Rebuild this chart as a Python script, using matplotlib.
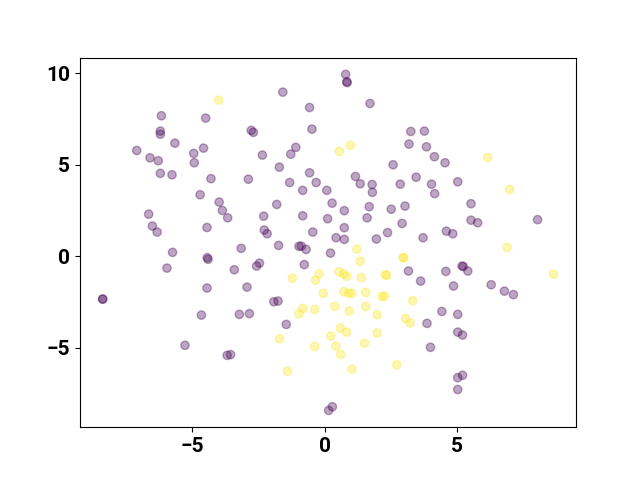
import matplotlib
matplotlib.use("Agg")
import matplotlib.pyplot as plt
from matplotlib.ticker import MultipleLocator
import numpy as np

plt.rcParams['font.family'] = ['Roboto', 'DejaVu Sans']
plt.rcParams['font.weight'] = 'bold'

# class 0 (purple)
x0 = [-1.58, -0.57, -6.16, -4.49, -0.48, -6.20, -6.20, -2.77, -2.69, -5.65,
      -7.09, -4.94, -4.57, -6.59, -6.28, -4.92, -2.35, -1.09, -1.28, -1.71,
      -0.57, -0.32, -6.20, -5.76, -4.29, -2.88, -1.32, -0.83, 0.79, 0.83,
      0.85, 1.71, 3.25, 3.76, 3.18, 3.84, 4.14, 4.54, 2.58, 1.16,
      1.34, 1.79, 1.80, 2.85, 3.45, 4.03, 5.02, 0.08, -4.70, -6.64,
      -3.98, -3.86, -3.66, -1.81, -2.30, -0.83, 0.11, 0.28, -6.50, -6.32,
      -4.44, -2.28, -2.17, -0.45, -1.74, -0.97, -0.88, -0.70, -5.74, -3.15,
      -4.43, -4.40, -2.46, -2.57, -5.95, -3.41, -0.77, 0.22, -8.38, -8.37,
      -4.44, -2.93, -1.92, -1.76, 0.74, 0.74, 0.43, 0.74, 1.68, 1.60,
      2.51, 3.03, 2.92, 2.37, 1.95, 3.71, 4.15, 5.52, 5.52, 5.77,
      8.03, 4.59, 4.83, 5.18, 5.23, 5.40, 3.16, 4.57, 3.62, 4.86,
      6.28, 6.78, 7.12, -4.65, -3.22, -2.84, -1.45, -5.27, -3.68, -3.55,
      0.15, 0.29, 4.42, 5.02, 3.86, 5.02, 5.20, 3.99, 5.02, 5.20,
      5.02]
y0 = [8.98, 8.14, 7.69, 7.56, 6.96, 6.85, 6.68, 6.89, 6.78, 6.19,
      5.79, 5.63, 5.92, 5.39, 5.23, 5.12, 5.54, 5.96, 5.59, 4.88,
      4.57, 4.04, 4.54, 4.46, 4.25, 4.22, 4.04, 3.61, 9.95, 9.55,
      9.50, 8.36, 6.83, 6.85, 6.14, 5.99, 5.45, 5.12, 5.01, 4.37,
      3.97, 3.93, 3.50, 3.95, 4.33, 3.95, 4.08, 3.61, 3.37, 2.31,
      2.97, 2.51, 2.11, 2.84, 2.20, 2.22, 2.06, 2.91, 1.66, 1.33,
      1.58, 1.44, 1.24, 1.33, 0.60, 0.55, 0.56, 0.38, 0.22, 0.44,
      -0.07, -0.16, -0.37, -0.53, -0.64, -0.73, -0.45, 0.18, -2.33, -2.34,
      -1.73, -1.68, -2.48, -2.44, 2.50, 1.57, 1.02, 0.93, 2.72, 2.11,
      2.58, 2.75, 1.80, 1.30, 0.95, 1.02, 3.43, 2.88, 1.98, 1.84,
      2.01, 1.38, 1.24, -0.53, -0.55, -0.80, -0.80, -0.82, -1.35, -1.62,
      -1.55, -1.90, -2.09, -3.21, -3.17, -3.13, -3.72, -4.86, -5.41, -5.37,
      -8.42, -8.22, -3.01, -3.17, -3.66, -4.14, -4.30, -4.97, -6.63, -6.50,
      -7.28]

# class 1 (yellow)
x1 = [-4.00, 0.55, 0.97, 6.15, 6.98, 6.88, 8.63, -1.22, -0.21, -0.35,
      -0.05, -0.82, -0.38, 1.21, 1.34, 2.96, 2.98, 0.54, 0.72, 0.83,
      2.30, 2.33, 1.38, 0.72, 0.91, 1.03, 1.55, 2.17, 2.25, 3.32,
      0.38, 0.92, 1.55, 1.98, 3.05, 3.22, 0.59, 0.83, 0.23, 1.98,
      1.50, 0.42, 0.60, 2.72, 1.03, -0.97, -1.70, -0.38, -1.41]
y1 = [8.54, 5.74, 6.08, 5.41, 3.66, 0.49, -0.97, -1.19, -0.95, -1.31,
      -2.02, -2.84, -2.90, 0.40, -0.26, -0.05, -0.08, -0.84, -0.95, -1.09,
      -1.00, -1.04, -1.16, -1.93, -2.01, -2.02, -1.97, -2.20, -2.17, -2.42,
      -2.73, -2.99, -2.74, -3.19, -3.40, -3.64, -3.92, -4.14, -4.36, -4.19,
      -4.75, -4.90, -5.36, -5.92, -6.17, -3.13, -4.50, -4.92, -6.28]

xs = np.array(x0 + x1)
ys = np.array(y0 + y1)
labels = np.array([0] * len(x0) + [1] * len(x1))

fig, ax = plt.subplots(figsize=(6.4, 4.8), dpi=100)
ax.scatter(xs, ys, c=labels, cmap='viridis', alpha=0.35)
ax.xaxis.set_major_locator(MultipleLocator(5))
ax.yaxis.set_major_locator(MultipleLocator(5))
ax.tick_params(labelsize=15)
for lab in ax.get_xticklabels() + ax.get_yticklabels():
    lab.set_fontweight('bold')
fig.savefig('out.png', dpi=100)
